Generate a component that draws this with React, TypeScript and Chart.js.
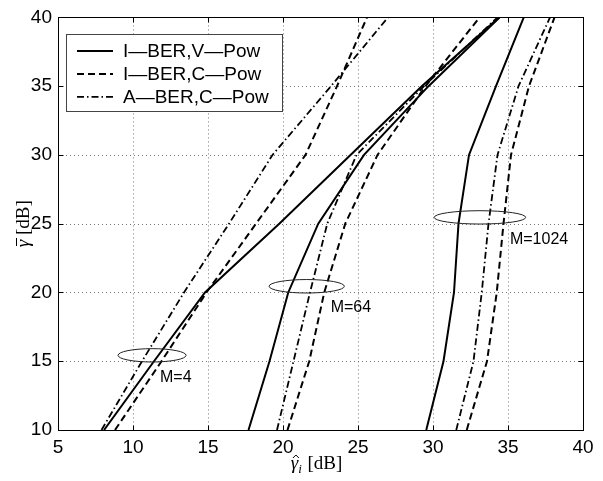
import React, { useEffect, useRef } from 'react';
import { Chart, registerables } from 'chart.js';

Chart.register(...registerables);

// vertical axis: gamma-bar [dB], sampled at these levels for every curve
const gammaBarDb = [10, 15, 20, 25, 30, 35, 40];

// horizontal values (gamma-hat_i [dB]) for each curve
// M = 4
const ivp4 = [8.07, 11.4, 14.8, 19.75, 24.5, 29.25, 34.4];
const icp4 = [8.8, 11.9, 14.9, 18.2, 21.5, 23.6, 25.6];
const acp4 = [7.9, 10.6, 13.4, 16.4, 19.3, 23.2, 27.0];
// M = 64
const ivp64 = [17.7, 19.1, 20.35, 22.35, 25.4, 29.7, 34.45];
const icp64 = [20.3, 21.75, 22.75, 24.15, 26.3, 29.5, 33.1];
const acp64 = [19.6, 20.7, 21.8, 22.95, 24.9, 29.4, 34.3];
// M = 1024
const ivp1024 = [29.55, 30.7, 31.4, 31.7, 32.4, 34.2, 36.05];
const icp1024 = [32.25, 33.6, 34.25, 34.7, 35.2, 36.4, 38.1];
const acp1024 = [31.55, 32.7, 33.25, 33.7, 34.3, 35.7, 37.8];

const xTicks = [5, 10, 15, 20, 25, 30, 35, 40];
const yTicks = [10, 15, 20, 25, 30, 35, 40];

const legendLabels = ['I\u2014BER,V\u2014Pow', 'I\u2014BER,C\u2014Pow', 'A\u2014BER,C\u2014Pow'];
const groupLabels = ['M=4', 'M=64', 'M=1024'];

// annotation ellipses (data coordinates)
const ellipseCx = [11.27, 21.58, 33.13];
const ellipseCy = [15.43, 20.45, 25.46];
const ellipseRx = [2.27, 2.51, 3.05];
const ellipseRy = [0.485, 0.49, 0.485];
const groupTextX = [11.8, 23.18, 35.13];
const groupTextY = [13.5, 18.57, 23.53];

const lineStyles = [
  { dash: [] as number[], width: 2 },
  { dash: [7, 4], width: 2 },
  { dash: [7, 3, 1.5, 3], width: 1.8 },
];

const seriesList = [
  { xs: ivp4, style: 0 },
  { xs: icp4, style: 1 },
  { xs: acp4, style: 2 },
  { xs: ivp64, style: 0 },
  { xs: icp64, style: 1 },
  { xs: acp64, style: 2 },
  { xs: ivp1024, style: 0 },
  { xs: icp1024, style: 1 },
  { xs: acp1024, style: 2 },
];

const SANS = '"Liberation Sans", Arial, Helvetica, sans-serif';
const SERIF = '"Liberation Serif", "Times New Roman", "DejaVu Serif", serif';

function drawGammaLabel(ctx: CanvasRenderingContext2D, cx: number, base: number, rotate: boolean, accent: 'hat' | 'bar', sub: string) {
  ctx.save();
  ctx.translate(cx, base);
  if (rotate) ctx.rotate(-Math.PI / 2);
  ctx.fillStyle = '#000';
  ctx.strokeStyle = '#000';
  ctx.textAlign = 'left';
  ctx.textBaseline = 'alphabetic';
  const gFont = 'italic 19px ' + SERIF;
  const sFont = 'italic 13px ' + SERIF;
  const tFont = '19px ' + SERIF;
  ctx.font = gFont;
  const wg = ctx.measureText('\u03b3').width;
  ctx.font = sFont;
  const ws = sub ? ctx.measureText(sub).width + 1 : 0;
  ctx.font = tFont;
  const wt = ctx.measureText(' [dB]').width;
  let x = -(wg + ws + wt) / 2;
  ctx.font = gFont;
  ctx.fillText('\u03b3', x, 0);
  const ax = x + wg / 2 + 1.5;
  ctx.lineWidth = 1;
  ctx.beginPath();
  if (accent === 'hat') {
    ctx.moveTo(ax - 3, -11);
    ctx.lineTo(ax, -14);
    ctx.lineTo(ax + 3, -11);
  } else {
    ctx.moveTo(ax - 4, -12.5);
    ctx.lineTo(ax + 4, -12.5);
  }
  ctx.stroke();
  x += wg;
  if (sub) {
    ctx.font = sFont;
    ctx.fillText(sub, x, 4);
    x += ws;
  }
  ctx.font = tFont;
  ctx.fillText(' [dB]', x, 0);
  ctx.restore();
}

const decorPlugin = {
  id: 'decor',
  beforeDatasetsDraw(chart: any) {
    const { ctx, chartArea: a, scales } = chart;
    const xs = scales.x, ys = scales.y;
    ctx.save();
    ctx.strokeStyle = '#777';
    ctx.lineWidth = 1;
    ctx.setLineDash([1, 3]);
    xTicks.slice(1, -1).forEach((v) => {
      const px = Math.round(xs.getPixelForValue(v)) + 0.5;
      ctx.beginPath();
      ctx.moveTo(px, a.top);
      ctx.lineTo(px, a.bottom);
      ctx.stroke();
    });
    yTicks.slice(1, -1).forEach((v) => {
      const py = Math.round(ys.getPixelForValue(v)) + 0.5;
      ctx.beginPath();
      ctx.moveTo(a.left, py);
      ctx.lineTo(a.right, py);
      ctx.stroke();
    });
    ctx.restore();
  },
  afterDraw(chart: any) {
    const { ctx, chartArea: a, scales } = chart;
    const xs = scales.x, ys = scales.y;
    ctx.save();
    // box
    ctx.strokeStyle = '#000';
    ctx.lineWidth = 1;
    ctx.setLineDash([]);
    const L = Math.round(a.left) + 0.5, R = Math.round(a.right) + 0.5;
    const T = Math.round(a.top) + 0.5, B = Math.round(a.bottom) + 0.5;
    ctx.strokeRect(L, T, R - L, B - T);
    // inward ticks
    ctx.beginPath();
    xTicks.forEach((v) => {
      const px = Math.round(xs.getPixelForValue(v)) + 0.5;
      ctx.moveTo(px, B); ctx.lineTo(px, B - 5);
      ctx.moveTo(px, T); ctx.lineTo(px, T + 5);
    });
    yTicks.forEach((v) => {
      const py = Math.round(ys.getPixelForValue(v)) + 0.5;
      ctx.moveTo(L, py); ctx.lineTo(L + 5, py);
      ctx.moveTo(R, py); ctx.lineTo(R - 5, py);
    });
    ctx.stroke();

    // annotation ellipses + labels
    ctx.strokeStyle = '#222';
    ctx.lineWidth = 1;
    ctx.fillStyle = '#000';
    ctx.font = '16px ' + SANS;
    ctx.textAlign = 'left';
    ctx.textBaseline = 'alphabetic';
    groupLabels.forEach((lab, i) => {
      const cx = xs.getPixelForValue(ellipseCx[i]);
      const cy = ys.getPixelForValue(ellipseCy[i]);
      const rx = xs.getPixelForValue(ellipseCx[i] + ellipseRx[i]) - cx;
      const ry = cy - ys.getPixelForValue(ellipseCy[i] + ellipseRy[i]);
      ctx.beginPath();
      ctx.ellipse(cx, cy, rx, ry, 0, 0, Math.PI * 2);
      ctx.stroke();
      ctx.fillText(lab, xs.getPixelForValue(groupTextX[i]), ys.getPixelForValue(groupTextY[i]));
    });

    // legend
    const bx = a.left + 8, by = a.top + 17, bw = 216, bh = 77;
    ctx.fillStyle = '#fff';
    ctx.fillRect(bx, by, bw, bh);
    ctx.strokeStyle = '#444';
    ctx.strokeRect(Math.round(bx) + 0.5, Math.round(by) + 0.5, bw, bh);
    ctx.font = '19px ' + SANS;
    ctx.fillStyle = '#000';
    legendLabels.forEach((lab, i) => {
      const ry = by + 16.5 + i * 23;
      const st = lineStyles[i];
      ctx.strokeStyle = '#000';
      ctx.lineWidth = st.width;
      ctx.setLineDash(st.dash);
      ctx.beginPath();
      ctx.moveTo(bx + 11, ry);
      ctx.lineTo(bx + 47, ry);
      ctx.stroke();
      ctx.setLineDash([]);
      ctx.fillText(lab, bx + 57, ry + 6);
    });

    // axis titles
    drawGammaLabel(ctx, (a.left + a.right) / 2 - 4, 469, false, 'hat', 'i');
    drawGammaLabel(ctx, 29, (a.top + a.bottom) / 2, true, 'bar', '');
    ctx.restore();
  },
};

export default function App() {
  const ref = useRef<HTMLCanvasElement>(null);
  useEffect(() => {
    document.body.style.margin = '0';
    const datasets = seriesList.map((s, idx) => ({
      label: legendLabels[s.style] + ' ' + groupLabels[Math.floor(idx / 3)],
      data: s.xs.map((xv, i) => ({ x: xv, y: gammaBarDb[i] })),
      showLine: true,
      borderColor: '#000',
      backgroundColor: '#000',
      borderWidth: lineStyles[s.style].width,
      borderDash: lineStyles[s.style].dash,
      pointRadius: 0,
      pointHoverRadius: 0,
      fill: false,
      tension: 0,
    }));
    const tickFont = { family: SANS, size: 19 };
    const chart = new Chart(ref.current as HTMLCanvasElement, {
      type: 'scatter',
      data: { datasets },
      options: {
        animation: false,
        responsive: false,
        layout: { padding: { top: 16, right: 20, left: 0, bottom: 0 } },
        plugins: { legend: { display: false }, tooltip: { enabled: false } },
        events: [],
        scales: {
          x: {
            type: 'linear',
            min: 5,
            max: 40,
            afterBuildTicks: (s: any) => { s.ticks = xTicks.map((v) => ({ value: v })); },
            afterFit: (s: any) => { s.height = 51; },
            grid: { display: false, drawTicks: false },
            border: { display: false },
            ticks: { font: tickFont, color: '#000', padding: 6, maxRotation: 0, autoSkip: false },
          },
          y: {
            type: 'linear',
            min: 10,
            max: 40,
            afterBuildTicks: (s: any) => { s.ticks = yTicks.map((v) => ({ value: v })); },
            afterFit: (s: any) => { s.width = 58; },
            grid: { display: false, drawTicks: false },
            border: { display: false },
            ticks: { font: tickFont, color: '#000', padding: 6, autoSkip: false },
          },
        },
      },
      plugins: [decorPlugin],
    } as any);
    return () => chart.destroy();
  }, []);
  return <canvas ref={ref} width={603} height={481} style={{ display: 'block', width: 603, height: 481 }} />;
}
